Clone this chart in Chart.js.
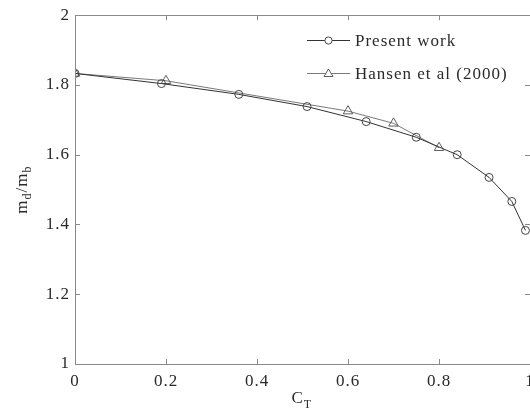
<!DOCTYPE html>
<html>
<head>
<meta charset="utf-8">
<script src="https://cdn.jsdelivr.net/npm/chart.js@4/dist/chart.umd.min.js"></script>
<style>
  html, body { margin: 0; padding: 0; background: #fff; overflow: hidden; }
  #wrap { position: relative; width: 546px; height: 414px; }
</style>
</head>
<body>
<div id="wrap"><canvas id="chart" width="546" height="414"></canvas></div>
<script>
// Thrust coefficient vs. mass ratio
const ctPresent    = [0, 0.19, 0.36, 0.51, 0.64, 0.75, 0.84, 0.91, 0.96, 0.99];
const ratioPresent = [1.833, 1.804, 1.773, 1.738, 1.695, 1.650, 1.600, 1.535, 1.466, 1.383];

const ctHansen     = [0, 0.2, 0.6, 0.7, 0.8];
const ratioHansen  = [1.833, 1.812, 1.725, 1.690, 1.620];

const xTicks = [0, 0.2, 0.4, 0.6, 0.8, 1];
const yTicks = [1, 1.2, 1.4, 1.6, 1.8, 2];

const seriesNames = ['Present work', 'Hansen et al (2000)'];

const FONT = '"Liberation Serif", "Times New Roman", serif';
const TEXT = '#2a2a2a';
const AXIS = '#8a8a8a';
const SPACING = '1px';

function pairs(xs, ys) { return xs.map((x, i) => ({ x: x, y: ys[i] })); }

// slightly wider letter spacing for all canvas text
const spacing = {
  id: 'spacing',
  beforeInit(chart) { chart.ctx.letterSpacing = SPACING; },
  beforeDraw(chart) { chart.ctx.letterSpacing = SPACING; }
};

// inward ticks on all four sides plus the frame
const frame = {
  id: 'frame',
  afterDatasetsDraw(chart) {
    const { ctx, chartArea: a, scales } = chart;
    ctx.save();
    ctx.strokeStyle = AXIS;
    ctx.lineWidth = 1;
    ctx.strokeRect(Math.round(a.left) + 0.5, Math.round(a.top) + 0.5,
                   Math.round(a.right - a.left), Math.round(a.bottom - a.top));
    const L = 5;
    ctx.beginPath();
    xTicks.forEach(v => {
      const px = Math.round(scales.x.getPixelForValue(v)) + 0.5;
      ctx.moveTo(px, a.bottom); ctx.lineTo(px, a.bottom - L);
      ctx.moveTo(px, a.top); ctx.lineTo(px, a.top + L);
    });
    yTicks.forEach(v => {
      const py = Math.round(scales.y.getPixelForValue(v)) + 0.5;
      ctx.moveTo(a.left, py); ctx.lineTo(a.left + L, py);
      ctx.moveTo(a.right, py); ctx.lineTo(a.right - L, py);
    });
    ctx.stroke();
    ctx.restore();
  }
};

// axis titles with subscripts
const titles = {
  id: 'titles',
  afterDraw(chart) {
    const { ctx, chartArea: a } = chart;
    ctx.save();
    ctx.fillStyle = TEXT;
    ctx.textBaseline = 'alphabetic';
    // x title: C_T
    ctx.font = '17px ' + FONT;
    ctx.textAlign = 'left';
    const cx = (a.left + a.right) / 2 - 11;
    ctx.fillText('C', cx, 403);
    const cw = ctx.measureText('C').width;
    ctx.font = '12px ' + FONT;
    ctx.fillText('T', cx + cw, 408);
    // y title: m_d/m_b rotated
    ctx.translate(27, (a.top + a.bottom) / 2);
    ctx.rotate(-Math.PI / 2);
    const parts = [['m', 17, 0], ['d', 12, 4], ['/m', 17, 0], ['b', 12, 4]];
    let total = 0;
    parts.forEach(p => { ctx.font = p[1] + 'px ' + FONT; total += ctx.measureText(p[0]).width; });
    let x = -total / 2;
    parts.forEach(p => {
      ctx.font = p[1] + 'px ' + FONT;
      ctx.fillText(p[0], x, p[2]);
      x += ctx.measureText(p[0]).width;
    });
    ctx.restore();
  }
};

// legend inside the plot, marker drawn on a short line segment
const legendBox = {
  id: 'legendBox',
  afterDraw(chart) {
    const { ctx } = chart;
    const rows = [40.5, 73.5];
    ctx.save();
    chart.data.datasets.forEach((ds, i) => {
      const y = rows[i];
      ctx.strokeStyle = ds.borderColor;
      ctx.lineWidth = 1;
      ctx.beginPath();
      ctx.moveTo(307, y); ctx.lineTo(350, y);
      ctx.stroke();
      ctx.fillStyle = '#fff';
      ctx.strokeStyle = ds.pointBorderColor;
      ctx.beginPath();
      if (ds.pointStyle === 'circle') {
        ctx.arc(328.5, y, 3.6, 0, Math.PI * 2);
      } else {
        ctx.moveTo(328.5, y - 4.5); ctx.lineTo(333, y + 3); ctx.lineTo(324, y + 3); ctx.closePath();
      }
      ctx.fill(); ctx.stroke();
      ctx.fillStyle = TEXT;
      ctx.font = '17px ' + FONT;
      ctx.textBaseline = 'middle';
      ctx.textAlign = 'left';
      ctx.fillText(ds.label, 355, y + 1);
    });
    ctx.restore();
  }
};

new Chart(document.getElementById('chart'), {
  type: 'line',
  data: {
    datasets: [
      {
        label: seriesNames[0],
        data: pairs(ctPresent, ratioPresent),
        borderColor: '#333333',
        borderWidth: 1,
        pointStyle: 'circle',
        pointRadius: 4,
        pointBorderColor: '#454545',
        pointBackgroundColor: 'rgba(0,0,0,0)',
        pointBorderWidth: 1,
        tension: 0
      },
      {
        label: seriesNames[1],
        data: pairs(ctHansen, ratioHansen),
        borderColor: '#7a7a7a',
        borderWidth: 1,
        pointStyle: 'triangle',
        pointRadius: 5.5,
        pointBorderColor: '#5e5e5e',
        pointBackgroundColor: 'rgba(0,0,0,0)',
        pointBorderWidth: 1,
        tension: 0
      }
    ]
  },
  options: {
    responsive: false,
    animation: false,
    events: [],
    layout: { padding: { left: 0, right: 16, top: 13, bottom: 0 } },
    plugins: { legend: { display: false }, tooltip: { enabled: false } },
    scales: {
      x: {
        type: 'linear', min: 0, max: 1,
        grid: { display: false, drawTicks: false },
        border: { display: false },
        afterBuildTicks(s) { s.ticks = xTicks.map(v => ({ value: v })); },
        afterFit(s) { s.height = 50; },
        ticks: {
          color: TEXT, padding: 7,
          font: { family: FONT, size: 17 },
          callback: v => String(v)
        }
      },
      y: {
        type: 'linear', min: 1, max: 2,
        grid: { display: false, drawTicks: false },
        border: { display: false },
        afterBuildTicks(s) { s.ticks = yTicks.map(v => ({ value: v })); },
        afterFit(s) { s.width = 75; },
        ticks: {
          color: TEXT, padding: 5,
          font: { family: FONT, size: 17 },
          callback: v => String(v)
        }
      }
    }
  },
  plugins: [spacing, frame, titles, legendBox]
});
</script>
</body>
</html>
